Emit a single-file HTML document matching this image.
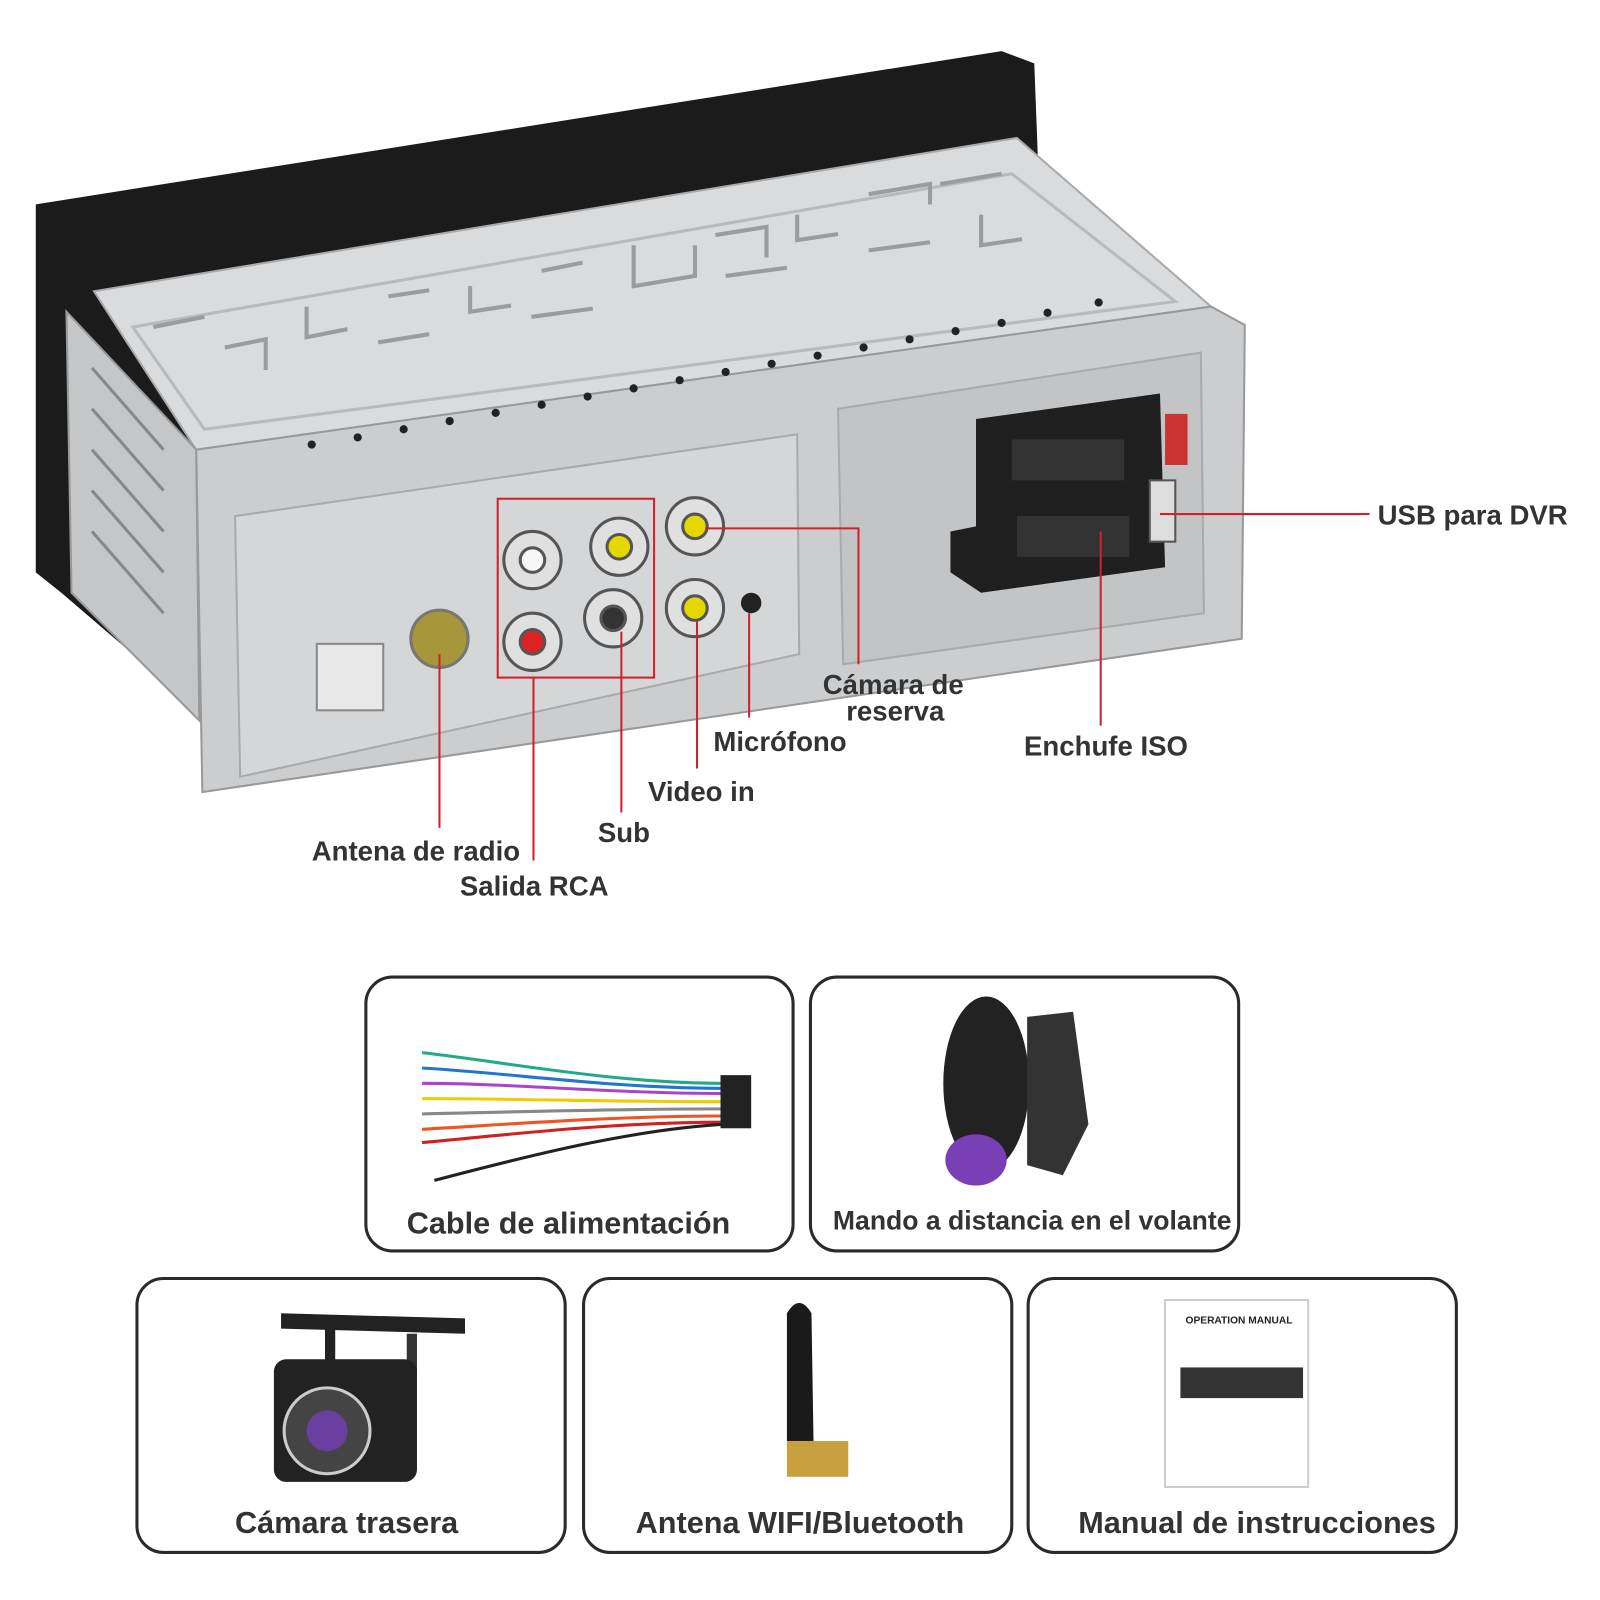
<!DOCTYPE html>
<html><head><meta charset="utf-8"><style>
html,body{margin:0;padding:0;background:#fff;width:1600px;height:1600px;overflow:hidden}
svg{display:block}
text{font-family:"Liberation Sans","Noto Sans CJK SC",sans-serif;fill:#333;font-weight:bold}
</style></head><body>
<svg width="1600" height="1600" viewBox="0 0 1600 1600" xmlns="http://www.w3.org/2000/svg">
<g transform="scale(1.022)">
<!-- black front panel -->
<polygon points="35,200 980,50 1012,62 1015,140 1020,300 200,700 60,580 35,560" fill="#1b1b1b"/>
<!-- top lid -->
<polygon points="92,285 995,135 1185,300 192,440" fill="#d9dbdd" stroke="#aaa" stroke-width="2"/>
<polygon points="130,320 990,170 1150,295 200,420" fill="none" stroke="#b8babd" stroke-width="3"/>
<g fill="none" stroke="#9a9ca0" stroke-width="4">
<path d="M150,320 l50,-10 M220,340 l40,-8 v30 M300,300 v30 l40,-8 M380,290 l40,-6 M460,280 v25 l40,-6 M530,265 l40,-8 M620,240 v40 l60,-10 v-30 M700,230 l50,-8 v30 M780,210 v25 l40,-6 M850,190 l60,-10 v20 M920,180 l60,-10 M960,210 v30 l40,-6"/>
<path d="M370,335 l50,-8 M520,310 l60,-8 M710,270 l60,-8 M850,245 l60,-8"/>
</g>
<!-- left side -->
<polygon points="65,305 192,440 195,705 70,580" fill="#c4c6c8" stroke="#999" stroke-width="2"/>
<g stroke="#888" stroke-width="3" fill="none"><path d="M90,360 l70,80 M90,400 l70,80 M90,440 l70,80 M90,480 l70,80 M90,520 l70,80"/></g>
<!-- back panel -->
<polygon points="192,440 1185,300 1218,318 1215,625 198,775" fill="#cbcdcf" stroke="#999" stroke-width="2"/>
<g fill="#222">
<circle cx="305" cy="435" r="4"/><circle cx="350" cy="428" r="4"/><circle cx="395" cy="420" r="4"/><circle cx="440" cy="412" r="4"/><circle cx="485" cy="404" r="4"/><circle cx="530" cy="396" r="4"/><circle cx="575" cy="388" r="4"/><circle cx="620" cy="380" r="4"/><circle cx="665" cy="372" r="4"/><circle cx="710" cy="364" r="4"/><circle cx="755" cy="356" r="4"/><circle cx="800" cy="348" r="4"/><circle cx="845" cy="340" r="4"/><circle cx="890" cy="332" r="4"/><circle cx="935" cy="324" r="4"/><circle cx="980" cy="316" r="4"/><circle cx="1025" cy="306" r="4"/><circle cx="1075" cy="296" r="4"/>
</g>
<polygon points="230,505 780,425 782,640 235,760" fill="#d4d6d8" stroke="#aaa" stroke-width="2"/>
<polygon points="820,400 1175,345 1178,600 825,650" fill="#c2c4c6" stroke="#aaa" stroke-width="2"/>
<!-- ISO connector -->
<polygon points="955,410 1135,385 1140,555 960,580 930,560 930,520 955,515" fill="#1f1f1f"/>
<rect x="990" y="430" width="110" height="40" fill="#333"/><rect x="995" y="505" width="110" height="40" fill="#333"/>
<rect x="1125" y="470" width="25" height="60" fill="#ddd" stroke="#555" stroke-width="2"/>
<rect x="1140" y="405" width="22" height="50" fill="#c33"/>
<!-- power plug area -->
<rect x="310" y="630" width="65" height="65" fill="#e8e8e8" stroke="#888" stroke-width="2"/>
<circle cx="430" cy="625" r="28" fill="#a8963a" stroke="#777" stroke-width="3"/>
<!-- RCA jacks -->
<g stroke="#555" stroke-width="3">
<circle cx="521" cy="548" r="28" fill="#e0e0e0"/><circle cx="521" cy="548" r="12" fill="#f7f7f7"/>
<circle cx="606" cy="535" r="28" fill="#e0e0e0"/><circle cx="606" cy="535" r="12" fill="#e5d800"/>
<circle cx="680" cy="515" r="28" fill="#e0e0e0"/><circle cx="680" cy="515" r="12" fill="#e5d800"/>
<circle cx="521" cy="628" r="28" fill="#e0e0e0"/><circle cx="521" cy="628" r="12" fill="#d22"/>
<circle cx="600" cy="605" r="28" fill="#e0e0e0"/><circle cx="600" cy="605" r="12" fill="#333"/>
<circle cx="680" cy="595" r="28" fill="#e0e0e0"/><circle cx="680" cy="595" r="12" fill="#e5d800"/>
</g>
<circle cx="735" cy="590" r="10" fill="#222"/>
<!-- red lines -->
<g stroke="#d0202a" stroke-width="2" fill="none">
<rect x="487" y="488" width="153" height="175"/>
<path d="M430,640 V810 M522,663 V842 M608,618 V795 M682,608 V752 M733,600 V702 M690,517 H840 V650 M1077,520 V710 M1135,503 H1340"/>
</g>
<g font-size="27">
<text x="305" y="842">Antena de radio</text>
<text x="450" y="876">Salida RCA</text>
<text x="585" y="824">Sub</text>
<text x="634" y="784">Video in</text>
<text x="698" y="735">Micrófono</text>
<text x="805" y="679">Cámara de</text>
<text x="828" y="705">reserva</text>
<text x="1002" y="739">Enchufe ISO</text>
<text x="1348" y="513">USB para DVR</text>
</g>
<!-- boxes -->
<g fill="#fff" stroke="#2a2a2a" stroke-width="3">
<rect x="358" y="956" width="418" height="268" rx="26"/>
<rect x="793" y="956" width="419" height="268" rx="26"/>
<rect x="134" y="1251" width="419" height="268" rx="26"/>
<rect x="571" y="1251" width="419" height="268" rx="26"/>
<rect x="1006" y="1251" width="419" height="268" rx="26"/>
</g>
<!-- harness -->
<g fill="none" stroke-width="3">
<path d="M413,1030 C500,1040 600,1060 710,1060" stroke="#2a8"/>
<path d="M413,1045 C500,1050 600,1065 710,1065" stroke="#27c"/>
<path d="M413,1060 C500,1060 600,1070 710,1070" stroke="#a4c"/>
<path d="M413,1075 C500,1075 600,1078 710,1078" stroke="#ec0"/>
<path d="M413,1090 C500,1088 600,1085 710,1085" stroke="#888"/>
<path d="M413,1105 C500,1100 600,1092 710,1092" stroke="#e52"/>
<path d="M413,1118 C500,1110 600,1098 710,1098" stroke="#c22"/>
<path d="M425,1155 C520,1130 620,1105 710,1100" stroke="#222"/>
</g>
<rect x="705" y="1052" width="30" height="52" fill="#222"/>
<!-- steering remote -->
<ellipse cx="965" cy="1060" rx="42" ry="85" fill="#222"/>
<path d="M1005,995 L1050,990 L1065,1100 L1040,1150 L1005,1140 Z" fill="#333"/>
<ellipse cx="955" cy="1135" rx="30" ry="25" fill="#7b3fb5"/>
<!-- camera -->
<path d="M275,1285 L455,1290 L455,1305 L275,1300 Z" fill="#222"/>
<rect x="318" y="1300" width="10" height="32" fill="#222"/><rect x="398" y="1305" width="10" height="40" fill="#333"/>
<rect x="268" y="1330" width="140" height="120" rx="12" fill="#222"/>
<circle cx="320" cy="1400" r="42" fill="#444" stroke="#ccc" stroke-width="3"/>
<circle cx="320" cy="1400" r="20" fill="#6a3fa0"/>
<!-- antenna -->
<path d="M770,1285 Q782,1265 794,1285 L796,1410 L770,1410 Z" fill="#1a1a1a"/>
<rect x="770" y="1410" width="60" height="35" fill="#c9a040"/>
<!-- manual -->
<rect x="1140" y="1272" width="140" height="183" fill="#fff" stroke="#ccc" stroke-width="2"/>
<text x="1160" y="1295" font-size="10" style="fill:#222">OPERATION MANUAL</text>
<rect x="1155" y="1338" width="120" height="30" fill="#333"/>
<g font-size="30">
<text x="398" y="1207">Cable de alimentación</text>
<text x="815" y="1203" font-size="26">Mando a distancia en el volante</text>
<text x="230" y="1500">Cámara trasera</text>
<text x="622" y="1500">Antena WIFI/Bluetooth</text>
<text x="1055" y="1500">Manual de instrucciones</text>
</g>
</g>
</svg>
</body></html>
